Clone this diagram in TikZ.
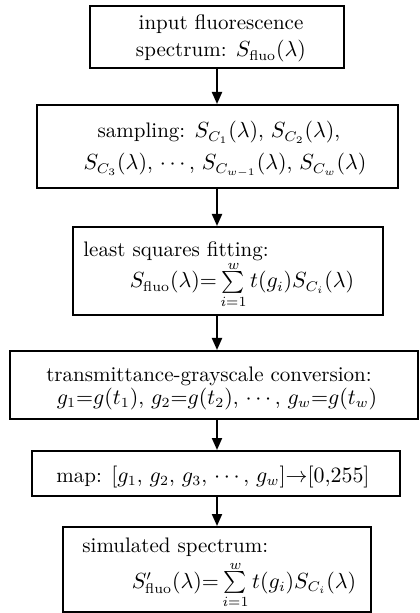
\documentclass[tikz,border=0pt]{standalone}
\usepackage{amsmath}
\usetikzlibrary{arrows.meta}
\newcommand{\tightsum}{\sum\limits^{\raisebox{-1pt}[0pt][0pt]{$\scriptstyle w$}}_{i=1}}
\begin{document}
\begin{tikzpicture}[x=0.5pt,y=-0.5pt,
  box/.style={draw,line width=1pt,inner sep=0pt,rectangle},
  txt/.style={inner sep=0pt,font=\fontsize{10.5}{13}\selectfont},
  arr/.style={line width=1pt,-{Triangle[length=6pt,width=5pt]}}]
\useasboundingbox (0,0) rectangle (419,613);
% boxes
\node[box,minimum width=127pt,minimum height=31pt] (b1) at (217,37) {};
\node[box,minimum width=180.5pt,minimum height=41.5pt] (b2) at (217.5,146.5) {};
\node[box,minimum width=155pt,minimum height=44pt] (b3) at (228,271) {};
\node[box,minimum width=204pt,minimum height=34pt] (b4) at (214,385) {};
\node[box,minimum width=184pt,minimum height=22.5pt] (b5) at (216,473.5) {};
\node[box,minimum width=154pt,minimum height=42.5pt] (b6) at (217,569.5) {};
% texts
\node[txt,anchor=base] (t1a) at (221,30) {input fluorescence};
\node[txt,anchor=base] (t1b) at (221,57) {spectrum: $S_{\mathrm{fluo}}(\lambda)$};
\node[txt,anchor=base] (t2a) at (219,138) {sampling: $S_{C_1}(\lambda)$, $S_{C_2}(\lambda)$,};
\node[txt,anchor=base] (t2b) at (225,170) {$S_{C_3}(\lambda)$, $\cdots$, $S_{C_{w-1}}(\lambda)$, $S_{C_w}(\lambda)$};
\node[txt,anchor=base west] (t3a) at (83,257) {least squares fitting:};
\node[txt,anchor=base] (t3b) at (242,288) {$S_{\mathrm{fluo}}(\lambda){=}\tightsum t(g_i)S_{C_i}(\lambda)$};
\node[txt,anchor=base] (t4a) at (209,381) {transmittance-grayscale conversion:};
\node[txt,anchor=base] (t4b) at (217,404) {$g_1{=}g(t_1)$, $g_2{=}g(t_2)$, $\cdots$, $g_w{=}g(t_w)$};
\node[txt,anchor=base] (t5) at (213,482) {map: $[g_1$, $g_2$, $g_3$, $\cdots$, $g_w]{\rightarrow}[0{,}255]$};
\node[txt,anchor=base west] (t6a) at (82,552) {simulated spectrum:};
\node[txt,anchor=base] (t6b) at (244,588) {$S'_{\mathrm{fluo}}(\lambda){=}\tightsum t(g_i)S_{C_i}(\lambda)$};
% arrows
\coordinate (ax) at (217,0);
\draw[arr] (b1.south -| ax) -- (b2.north -| ax);
\draw[arr] (b2.south -| ax) -- (b3.north -| ax);
\draw[arr] (b3.south -| ax) -- (b4.north -| ax);
\draw[arr] (b4.south -| ax) -- (b5.north -| ax);
\draw[arr] (b5.south -| ax) -- (b6.north -| ax);
\end{tikzpicture}
\end{document}
